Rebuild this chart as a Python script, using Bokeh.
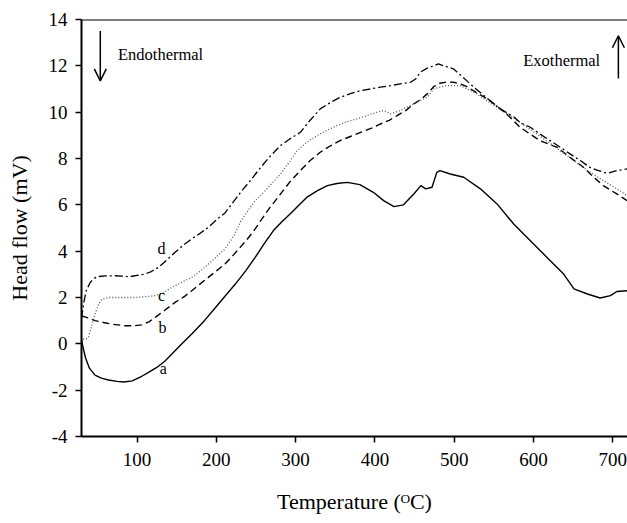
from bokeh.plotting import figure
from bokeh.models import Span, Arrow, OpenHead, Label, FixedTicker, Range1d
from bokeh.embed import file_html
from bokeh.resources import INLINE

# ---- data ----
a_T = [30, 31, 35, 40, 47, 55, 64, 75, 83, 94, 106, 115, 125, 135, 144, 155, 169, 185, 199, 212,
       224, 237, 249, 260, 272, 283, 293, 304, 314, 327, 340, 352, 365, 381, 398, 411, 424, 436,
       449, 458, 464, 472, 478, 482, 495, 512, 533, 554, 575, 596, 617, 638, 651, 668, 684, 697,
       705, 718]
a_v = [0.2, 0.0, -0.6, -1.05, -1.35, -1.48, -1.56, -1.62, -1.65, -1.6, -1.4, -1.22, -1.02, -0.75,
       -0.44, -0.05, 0.42, 1.0, 1.57, 2.1, 2.58, 3.15, 3.73, 4.3, 4.89, 5.28, 5.6, 5.98, 6.32, 6.6,
       6.83, 6.92, 6.97, 6.87, 6.54, 6.18, 5.92, 6.0, 6.47, 6.83, 6.69, 6.76, 7.4, 7.48, 7.33, 7.19,
       6.69, 6.04, 5.17, 4.45, 3.73, 3.01, 2.37, 2.15, 1.98, 2.08, 2.26, 2.29]

b_T = [30, 40, 47, 58, 68, 85, 96, 106, 115, 123, 135, 148, 160, 169, 180, 190, 200, 211, 222, 232,
       241, 249, 256, 268, 281, 293, 306, 318, 331, 344, 356, 369, 382, 395, 407, 418, 428, 440,
       449, 458, 466, 474, 482, 490, 499, 508, 516, 524, 545, 566, 583, 608, 630, 646, 663, 676,
       688, 705, 718]
b_v = [1.21, 1.1, 1.0, 0.92, 0.85, 0.78, 0.78, 0.82, 0.95, 1.14, 1.45, 1.79, 2.05, 2.29, 2.6, 2.87,
       3.15, 3.45, 3.85, 4.24, 4.6, 4.96, 5.32, 5.9, 6.47, 7.0, 7.48, 7.9, 8.27, 8.55, 8.77, 8.95,
       9.13, 9.3, 9.49, 9.65, 9.85, 10.1, 10.36, 10.55, 10.79, 11.1, 11.25, 11.3, 11.29, 11.22,
       11.1, 10.93, 10.5, 9.93, 9.35, 8.77, 8.48, 8.05, 7.62, 7.19, 6.83, 6.47, 6.18]

c_T = [32, 36, 39, 43, 47, 52, 56, 65, 73, 85, 98, 110, 123, 133, 144, 156, 169, 180, 190, 200, 211,
       222, 231, 241, 249, 256, 268, 281, 292, 302, 314, 327, 340, 352, 364, 377, 390, 403, 411,
       420, 430, 440, 449, 457, 466, 474, 482, 491, 500, 508, 516, 524, 554, 583, 613, 642, 668,
       688, 705, 718]
c_v = [0.2, 0.22, 0.3, 0.8, 1.29, 1.75, 1.93, 2.0, 2.0, 2.0, 2.0, 2.03, 2.08, 2.2, 2.44, 2.65, 2.87,
       3.15, 3.45, 3.75, 4.1, 4.65, 5.3, 5.8, 6.18, 6.4, 6.85, 7.33, 7.85, 8.34, 8.7, 8.99, 9.22,
       9.42, 9.58, 9.71, 9.85, 10.0, 10.07, 9.93, 10.05, 10.21, 10.35, 10.5, 10.64, 11.0, 11.08,
       11.15, 11.15, 11.15, 11.0, 10.88, 10.21, 9.56, 8.85, 8.13, 7.48, 7.05, 6.69, 6.4]

d_T = [30, 33, 36, 41, 45, 50, 60, 71, 80, 91, 104, 110, 118, 127, 137, 148, 158, 169, 180, 190,
       200, 211, 222, 232, 243, 256, 268, 281, 293, 306, 318, 331, 344, 356, 369, 382, 394, 407,
       420, 432, 445, 452, 457, 466, 474, 480, 487, 499, 508, 516, 524, 545, 558, 575, 583, 596,
       608, 621, 634, 646, 659, 671, 680, 693, 705, 718]
d_v = [1.1, 1.8, 2.3, 2.65, 2.8, 2.9, 2.93, 2.94, 2.92, 2.9, 2.98, 3.01, 3.12, 3.3, 3.6, 3.95, 4.25,
       4.53, 4.78, 5.03, 5.35, 5.65, 6.15, 6.6, 7.05, 7.62, 8.1, 8.56, 8.85, 9.13, 9.64, 10.14,
       10.42, 10.64, 10.8, 10.93, 11.0, 11.08, 11.15, 11.22, 11.29, 11.45, 11.72, 11.9, 12.0,
       12.08, 12.0, 11.87, 11.6, 11.35, 11.1, 10.5, 10.14, 9.8, 9.55, 9.35, 9.06, 8.77, 8.48, 8.2,
       7.91, 7.62, 7.5, 7.36, 7.48, 7.55]

x_ticks = [100, 200, 300, 400, 500, 600, 700]
y_ticks = [-4, -2, 0, 2, 4, 6, 8, 10, 12, 14]
y_tick_labels = ["-4", "-2", "0", "2", "4", "6", "8", "10", "12", "14"]
curve_labels = ["a", "b", "c", "d"]

SERIF = "Liberation Serif"

p = figure(width=627, height=523, x_range=Range1d(30, 718.5), y_range=Range1d(-4, 14),
           output_backend="svg", toolbar_location=None,
           min_border_left=81, min_border_right=0, min_border_top=19, min_border_bottom=87)
p.background_fill_color = "white"
p.border_fill_color = "white"
p.outline_line_color = None
p.xgrid.grid_line_color = None
p.ygrid.grid_line_color = None

for ax in (p.xaxis[0], p.yaxis[0]):
    ax.axis_line_width = 2
    ax.axis_line_color = "black"
    ax.major_tick_line_width = 1.5
    ax.major_tick_line_color = "black"
    ax.major_tick_out = 6
    ax.major_tick_in = 0
    ax.minor_tick_out = 0
    ax.minor_tick_in = 0
    ax.major_label_text_font = SERIF
    ax.major_label_text_font_size = "19px"
    ax.major_label_text_color = "black"
    ax.axis_label_text_font = SERIF
    ax.axis_label_text_font_size = "22px"
    ax.axis_label_text_font_style = "normal"
    ax.axis_label_text_color = "black"

p.xaxis.ticker = FixedTicker(ticks=x_ticks)
p.yaxis.ticker = FixedTicker(ticks=y_ticks)
p.yaxis.major_label_overrides = {t: s for t, s in zip(y_ticks, y_tick_labels)}
p.xaxis.major_label_standoff = 10
p.yaxis.major_label_standoff = 8
p.xaxis.axis_label = "Temperature (\u1D3CC)"
p.yaxis.axis_label = "Head flow (mV)"
p.xaxis.axis_label_standoff = 20
p.yaxis.axis_label_standoff = 14

# top border
p.add_layout(Span(location=14, dimension="width", line_color="black", line_width=2))

# curves
p.line(a_T, a_v, line_color="black", line_width=1.4)
p.line(b_T, b_v, line_color="black", line_width=1.4, line_dash="7 4")
p.line(c_T, c_v, line_color="#555555", line_width=1.3, line_dash="1 2")
p.line(d_T, d_v, line_color="black", line_width=1.3, line_dash="8 3 2 3")

# curve labels
lab_x = [133, 132, 131, 131]
lab_y = [-1.05, 0.7, 2.1, 4.1]
for t, x, y in zip(curve_labels, lab_x, lab_y):
    p.add_layout(Label(x=x, y=y, text=t, text_font=SERIF, text_font_size="16px",
                       text_align="center", text_baseline="middle", text_color="black"))

# endo / exo annotations
p.add_layout(Arrow(end=OpenHead(size=12, line_width=1.5, line_color="black"),
                   x_start=53.7, y_start=13.5, x_end=53.7, y_end=11.35,
                   line_width=1.5, line_color="black"))
p.add_layout(Label(x=76, y=12.5, text="Endothermal", text_font=SERIF, text_font_size="16.5px",
                   text_align="left", text_baseline="middle", text_color="black"))
p.add_layout(Arrow(end=OpenHead(size=12, line_width=1.5, line_color="black"),
                   x_start=707, y_start=11.45, x_end=707, y_end=13.3,
                   line_width=1.5, line_color="black"))
p.add_layout(Label(x=587, y=12.23, text="Exothermal", text_font=SERIF, text_font_size="16.5px",
                   text_align="left", text_baseline="middle", text_color="black"))

open("out.html", "w").write(file_html(p, INLINE))
